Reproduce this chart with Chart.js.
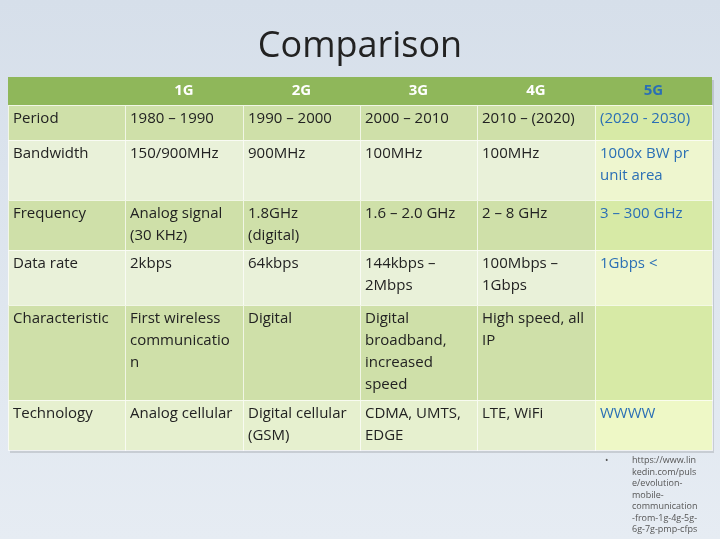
<!DOCTYPE html>
<html><head><meta charset="utf-8">
<script src="https://cdn.jsdelivr.net/npm/chart.js@4"></script>
<style>
html,body{margin:0;padding:0;background:linear-gradient(#d6dfea,#e6ecf3);}
#wrap{width:720px;height:539px;position:relative;}
</style></head>
<body><div id="wrap"><canvas id="c" width="720" height="539"></canvas></div>
<script>
// table content
var generations = ['1G', '2G', '3G', '4G', '5G'];
var rowLabels = ['Period', 'Bandwidth', 'Frequency', 'Data rate', 'Characteristic', 'Technology'];
var gen1 = ['1980 – 1990', '150/900MHz', 'Analog signal\n(30 KHz)', '2kbps', 'First wireless\ncommunicatio\nn', 'Analog cellular'];
var gen2 = ['1990 – 2000', '900MHz', '1.8GHz\n(digital)', '64kbps', 'Digital', 'Digital cellular\n(GSM)'];
var gen3 = ['2000 – 2010', '100MHz', '1.6 – 2.0 GHz', '144kbps –\n2Mbps', 'Digital\nbroadband,\nincreased\nspeed', 'CDMA, UMTS,\nEDGE'];
var gen4 = ['2010 – (2020)', '100MHz', '2 – 8 GHz', '100Mbps –\n1Gbps', 'High speed, all\nIP', 'LTE, WiFi'];
var gen5 = ['(2020 - 2030)', '1000x BW pr\nunit area', '3 – 300 GHz', '1Gbps <', '', 'WWWW'];
var source = ['https://www.lin', 'kedin.com/puls', 'e/evolution-', 'mobile-', 'communication', '-from-1g-4g-5g-', '6g-7g-pmp-cfps'];

// layout (page units)
var colEdges = [8, 125, 243, 360, 477, 595, 712];
var rowEdges = [77, 105, 140, 200, 250, 305, 400, 450];
var rowFill = ['#cfe0a9', '#e9f1d9', '#cfe0a9', '#e9f1d9', '#cfe0a9', '#e6f0cf'];
var rowFill5 = ['#d7eaa6', '#eef6cf', '#d7eaa6', '#eef6cf', '#d7eaa6', '#eef8c6'];

var columns = [rowLabels, gen1, gen2, gen3, gen4, gen5];

var tablePlugin = {
    id: 'table',
    afterDraw: function(chart) {
        var ctx = chart.ctx, x = chart.scales.x, y = chart.scales.y;
        var px = function(v) { return x.getPixelForValue(v); };
        var py = function(v) { return y.getPixelForValue(v); };
        ctx.save();
        // title
        ctx.fillStyle = '#222';
        ctx.font = '36px "Open Sans"';
        ctx.textAlign = 'center';
        ctx.textBaseline = 'middle';
        ctx.fillText('Comparison', px(360), py(47));
        // shadow
        ctx.fillStyle = 'rgba(0,0,0,0.12)';
        ctx.fillRect(px(colEdges[0]) + 2, py(rowEdges[0]) + 3, px(colEdges[6]) - px(colEdges[0]), py(rowEdges[7]) - py(rowEdges[0]));
        // header
        ctx.fillStyle = '#8fb75a';
        ctx.fillRect(px(colEdges[0]), py(rowEdges[0]), px(colEdges[6]) - px(colEdges[0]), py(rowEdges[1]) - py(rowEdges[0]));
        ctx.font = 'bold 15px "Open Sans"';
        generations.forEach(function(g, i) {
            ctx.fillStyle = i === 4 ? '#2a6fb5' : '#ffffff';
            ctx.fillText(g, (px(colEdges[i + 1]) + px(colEdges[i + 2])) / 2, (py(rowEdges[0]) + py(rowEdges[1])) / 2);
        });
        // body
        ctx.textAlign = 'left';
        ctx.textBaseline = 'top';
        ctx.font = '15px "Open Sans"';
        for (var r = 0; r < rowLabels.length; r++) {
            for (var c = 0; c < columns.length; c++) {
                var x0 = px(colEdges[c]), x1 = px(colEdges[c + 1]);
                var y0 = py(rowEdges[r + 1]), y1 = py(rowEdges[r + 2]);
                ctx.fillStyle = c === 5 ? rowFill5[r] : rowFill[r];
                ctx.fillRect(x0, y0, x1 - x0, y1 - y0);
                ctx.strokeStyle = 'rgba(255,255,255,0.7)';
                ctx.lineWidth = 1;
                ctx.strokeRect(x0 + 0.5, y0 + 0.5, x1 - x0, y1 - y0);
                ctx.fillStyle = c === 5 ? '#2a6fb5' : '#222';
                columns[c][r].split('\n').forEach(function(line, k) {
                    ctx.fillText(line, x0 + 5, y0 + 6 + k * 22);
                });
            }
        }
        // source note
        ctx.fillStyle = '#555';
        ctx.font = '9px "Open Sans"';
        ctx.fillText('•', px(605), py(456));
        source.forEach(function(line, k) {
            ctx.fillText(line, px(632), py(456) + k * 11.5);
        });
        ctx.restore();
    }
};

new Chart(document.getElementById('c').getContext('2d'), {
    type: 'scatter',
    data: { datasets: [{ data: [] }] },
    options: {
        responsive: false,
        animation: false,
        layout: { padding: 0 },
        plugins: { legend: { display: false }, tooltip: { enabled: false } },
        scales: {
            x: { type: 'linear', min: 0, max: 720, display: false },
            y: { type: 'linear', min: 0, max: 539, reverse: true, display: false }
        }
    },
    plugins: [tablePlugin]
});
</script>
</body></html>
